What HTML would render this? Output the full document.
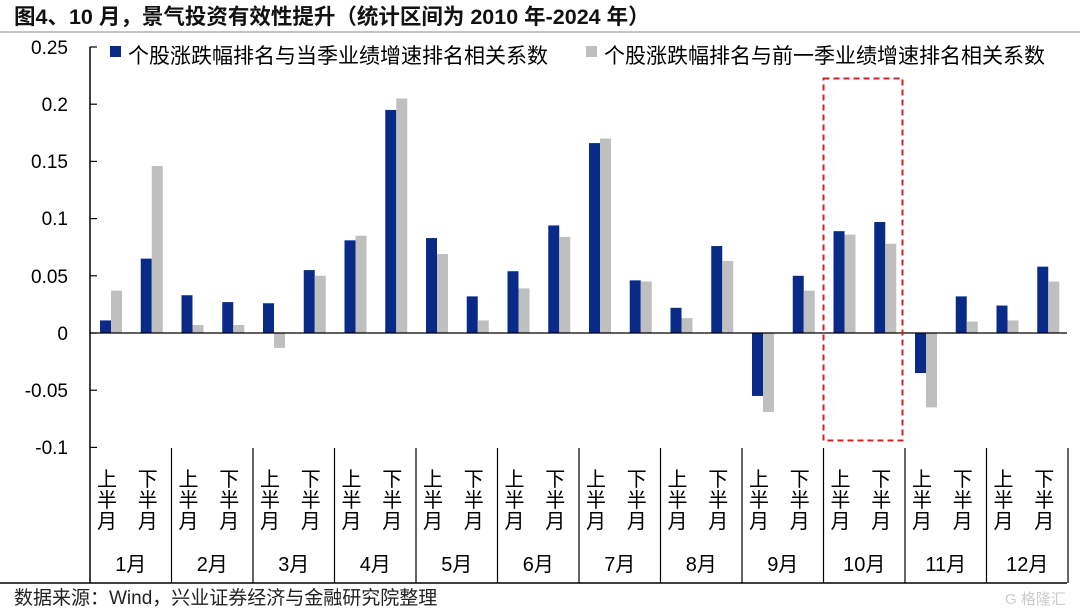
<!DOCTYPE html>
<html><head><meta charset="utf-8"><style>
body{margin:0;background:#fff;}
svg text{font-family:"Liberation Sans","Noto Sans CJK SC",sans-serif;}
</style></head><body>
<svg width="1080" height="609" xmlns="http://www.w3.org/2000/svg">
<text x="14" y="24" font-size="21.5" font-weight="bold" fill="#111">图4、10 月，景气投资有效性提升（统计区间为 2010 年-2024 年）</text>
<line x1="0" y1="32" x2="1080" y2="32" stroke="#888" stroke-width="1"/>
<g id="bars"></g>
<line x1="90" y1="47" x2="90" y2="583" stroke="#000" stroke-width="1.5"/>
<line x1="90" y1="333" x2="1067" y2="333" stroke="#000" stroke-width="1.2"/>
<g stroke="#000" stroke-width="1.2" id="ticks"></g>
<g font-size="19" fill="#000" text-anchor="end">
<text x="68" y="54">0.25</text><text x="68" y="111">0.2</text><text x="68" y="168">0.15</text>
<text x="68" y="225">0.1</text><text x="68" y="283">0.05</text><text x="68" y="340">0</text>
<text x="68" y="397">-0.05</text><text x="68" y="454">-0.1</text>
</g>
<rect x="110" y="46" width="11" height="11" fill="#0a2a88"/>
<text x="128" y="63" font-size="21">个股涨跌幅排名与当季业绩增速排名相关系数</text>
<rect x="586" y="46" width="11" height="11" fill="#bfbfbf"/>
<text x="604" y="63" font-size="21">个股涨跌幅排名与前一季业绩增速排名相关系数</text>
<rect x="823.5" y="78.5" width="79" height="362" fill="none" stroke="#d62020" stroke-width="2" stroke-dasharray="6,4"/>
<g id="xl" font-size="20" text-anchor="middle"></g>
<line x1="0" y1="583" x2="1067" y2="583" stroke="#000" stroke-width="1.5"/>
<text x="14" y="604" font-size="19" fill="#222">数据来源：Wind，兴业证券经济与金融研究院整理</text>
<text x="1005" y="604" font-size="15" fill="#ccc">G 格隆汇</text>
</svg>
<script>
var A=[0.011,0.065,0.033,0.027,0.026,0.055,0.081,0.195,0.083,0.032,0.054,0.094,0.166,0.046,0.022,0.076,-0.055,0.050,0.089,0.097,-0.035,0.032,0.024,0.058];
var B=[0.037,0.146,0.007,0.007,-0.013,0.050,0.085,0.205,0.069,0.011,0.039,0.084,0.170,0.045,0.013,0.063,-0.069,0.037,0.086,0.078,-0.065,0.010,0.011,0.045];
var ns="http://www.w3.org/2000/svg";
function el(t,a,p){var e=document.createElementNS(ns,t);for(var k in a)e.setAttribute(k,a[k]);p.appendChild(e);return e;}
var g=document.getElementById('bars');
function y(v){return 333-v*1144;}
for(var i=0;i<24;i++){var s=90+i*40.75;
[[A[i],10,'#0a2a88'],[B[i],21,'#bfbfbf']].forEach(function(d){var v=d[0];el('rect',{x:s+d[1],y:Math.min(y(v),333),width:11,height:Math.abs(v*1144),fill:d[2]},g);});}
var t=document.getElementById('ticks');
for(var j=0;j<8;j++)el('line',{x1:90,x2:97,y1:47+j*57.2,y2:47+j*57.2},t);
for(var m=1;m<=12;m++){var x=90+m*81.5;el('line',{x1:x,x2:x,y1:448,y2:583},t);}
var xl=document.getElementById('xl');
for(var i=0;i<24;i++){var cx=90+i*40.75+17;var c=i%2?'下':'上';
[c,'半','月'].forEach(function(ch,k){var e=el('text',{x:cx,y:486+k*21},xl);e.textContent=ch;});}
for(var m=0;m<12;m++){var e=el('text',{x:90+m*81.5+40.75,y:571},xl);e.textContent=(m+1)+'月';}
</script>
</body></html>
